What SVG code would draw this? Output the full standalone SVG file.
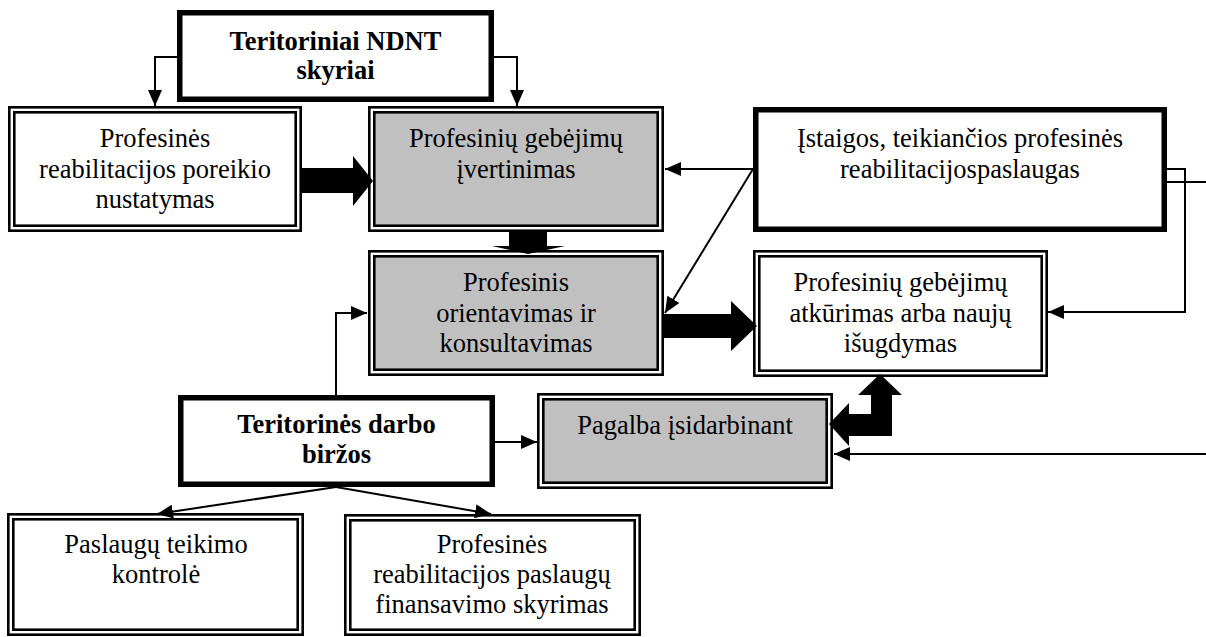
<svg xmlns="http://www.w3.org/2000/svg" width="1206" height="637" viewBox="0 0 1206 637" font-family="'Liberation Serif', 'DejaVu Serif', serif">
<style>
  text { font-family: 'Liberation Serif', 'Times New Roman', 'DejaVu Serif', serif; font-size: 26.5px; fill: #000; text-anchor: middle; }
  .b { font-weight: bold; }
  .o { fill: #fff; stroke: #000; stroke-width: 2.6; }
  .iw { fill: #fff; stroke: #000; stroke-width: 2.6; }
  .ig { fill: #c0c0c0; stroke: #000; stroke-width: 2.6; }
  .thick { fill: #fff; stroke: #000; stroke-width: 5.5; }
  .ln { fill: none; stroke: #000; stroke-width: 2; }
  .arr { marker-end: url(#ah); }
  .big { fill: #000; stroke: none; }
</style>
<defs>
  <marker id="ah" markerUnits="userSpaceOnUse" markerWidth="16" markerHeight="14" refX="16" refY="7" orient="auto">
    <path d="M0,0 L16,7 L0,14 z" fill="#000"/>
  </marker>
</defs>

<g id="node-ndnt">
  <rect class="thick" x="179.75" y="12.75" width="311.5" height="86.5"/>
  <text class="b" x="335.5" y="50">Teritoriniai NDNT</text>
  <text class="b" x="335.5" y="79">skyriai</text>
</g>

<g id="node-poreikio">
  <rect class="o" x="9.3" y="107.3" width="291.4" height="123.4"/>
  <rect class="iw" x="14.3" y="112.3" width="281.4" height="113.4"/>
  <text x="155" y="147">Profesinės</text>
  <text x="155" y="177.5">reabilitacijos poreikio</text>
  <text x="155" y="208">nustatymas</text>
</g>

<g id="node-ivertinimas">
  <rect class="o" x="369.3" y="107.3" width="293.4" height="123.4"/>
  <rect class="ig" x="374.3" y="112.3" width="283.4" height="113.4"/>
  <text x="516" y="147">Profesinių gebėjimų</text>
  <text x="516" y="177.5">įvertinimas</text>
</g>

<g id="node-istaigos">
  <rect class="thick" x="755.75" y="109.75" width="408.5" height="119.5"/>
  <text x="960" y="147">Įstaigos, teikiančios profesinės</text>
  <text x="960" y="177.5">reabilitacijospaslaugas</text>
</g>

<g id="node-orientavimas">
  <rect class="o" x="369.3" y="251.3" width="293.4" height="123.4"/>
  <rect class="ig" x="374.3" y="256.3" width="283.4" height="113.4"/>
  <text x="516" y="291">Profesinis</text>
  <text x="516" y="321.5">orientavimas ir</text>
  <text x="516" y="352">konsultavimas</text>
</g>

<g id="node-atkurimas">
  <rect class="o" x="754.3" y="251.3" width="292.4" height="124.4"/>
  <rect class="iw" x="759.3" y="256.3" width="282.4" height="114.4"/>
  <text x="900.5" y="291">Profesinių gebėjimų</text>
  <text x="900.5" y="321.5">atkūrimas arba naujų</text>
  <text x="900.5" y="352">išugdymas</text>
</g>

<g id="node-darbo">
  <rect class="thick" x="180.75" y="397.75" width="311.5" height="86.5"/>
  <text class="b" x="336.5" y="433">Teritorinės darbo</text>
  <text class="b" x="336.5" y="463">biržos</text>
</g>

<g id="node-pagalba">
  <rect class="o" x="538.3" y="394.3" width="293.4" height="93.4"/>
  <rect class="ig" x="543.3" y="399.3" width="283.4" height="83.4"/>
  <text x="685" y="434">Pagalba įsidarbinant</text>
</g>

<g id="node-kontrole">
  <rect class="o" x="8.3" y="514.3" width="294.4" height="120.4"/>
  <rect class="iw" x="13.3" y="519.3" width="284.4" height="110.4"/>
  <text x="156" y="553">Paslaugų teikimo</text>
  <text x="156" y="583">kontrolė</text>
</g>

<g id="node-finansavimas">
  <rect class="o" x="345.3" y="515.3" width="294.4" height="119.4"/>
  <rect class="iw" x="350.3" y="520.3" width="284.4" height="109.4"/>
  <text x="492" y="553">Profesinės</text>
  <text x="492" y="583">reabilitacijos paslaugų</text>
  <text x="492" y="613">finansavimo skyrimas</text>
</g>

<g id="connectors">
  <polyline class="ln arr" points="177,57 155,57 155,106"/>
  <polyline class="ln arr" points="494,57 517,57 517,106"/>
  <polygon class="big" points="300,168 353,168 353,156 373,181 353,206 353,193 300,193"/>
  <polygon class="big" points="509,231 547,231 547,246 565,246 528,254 492,246 509,246"/>
  <line class="ln arr" x1="753" y1="169" x2="665" y2="169"/>
  <line class="ln arr" x1="753" y1="169" x2="665" y2="313"/>
  <polygon class="big" points="662,314 731,314 731,301 757,326 731,351 731,338 662,338"/>
  <polyline class="ln arr" points="1167,169 1185,169 1185,312 1048,312"/>
  <line class="ln" x1="1167" y1="182" x2="1206" y2="182"/>
  <line class="ln arr" x1="1206" y1="454" x2="834" y2="454"/>
  <polyline class="ln arr" points="336,395 336,313 367,313"/>
  <line class="ln arr" x1="495" y1="442" x2="537" y2="442"/>
  <line class="ln arr" x1="336" y1="487" x2="157" y2="514"/>
  <line class="ln arr" x1="336" y1="487" x2="491" y2="514"/>
  <polygon class="big" points="880,374 902,395 892,395 892,436 849,436 849,446 829,424 849,403 849,414 871,414 871,395 858,395"/>
</g>
</svg>
